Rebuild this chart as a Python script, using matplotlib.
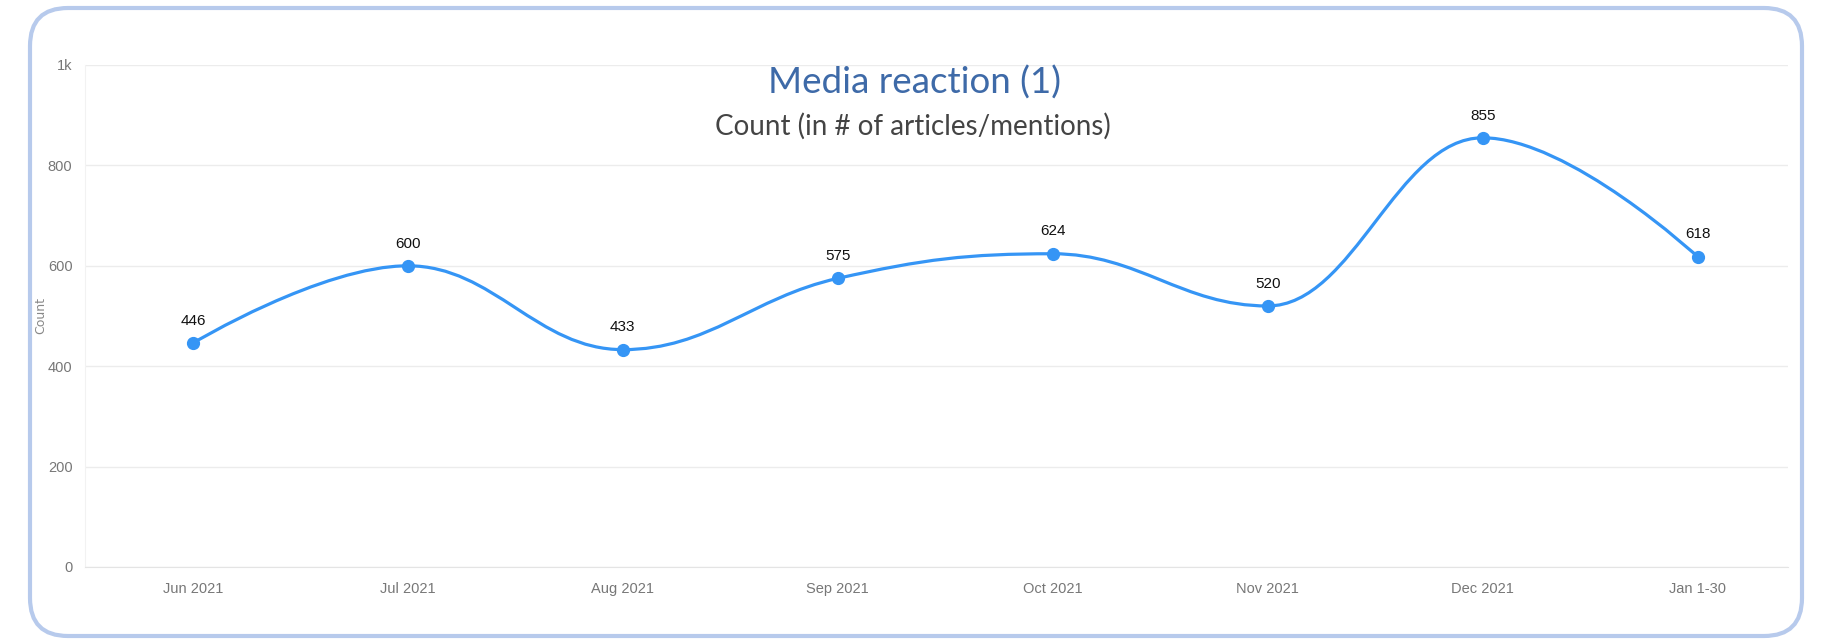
import matplotlib
matplotlib.use('Agg')
import matplotlib.pyplot as plt
from matplotlib.patches import FancyBboxPatch, PathPatch
from matplotlib.path import Path
from matplotlib.transforms import IdentityTransform
from matplotlib.ticker import FixedLocator, FuncFormatter

months = ['Jun 2021', 'Jul 2021', 'Aug 2021', 'Sep 2021', 'Oct 2021',
          'Nov 2021', 'Dec 2021', 'Jan 1-30']
counts = [446, 600, 433, 575, 624, 520, 855, 618]
y_ticks = [0, 200, 400, 600, 800, 1000]

narrow = ['Liberation Sans', 'DejaVu Sans']
line_color = '#3595f5'


def spline_path(xs, ys, smoothing=1.5):
    # highcharts-like spline: bezier through points, flat at extremes
    denom = smoothing + 1
    n = len(xs)
    conts = []
    for i in range(n):
        if i == 0 or i == n - 1:
            conts.append(((xs[i], ys[i]), (xs[i], ys[i])))
            continue
        lx, ly = xs[i - 1], ys[i - 1]
        nx, ny = xs[i + 1], ys[i + 1]
        px, py = xs[i], ys[i]
        lcx = (smoothing * px + lx) / denom
        lcy = (smoothing * py + ly) / denom
        rcx = (smoothing * px + nx) / denom
        rcy = (smoothing * py + ny) / denom
        corr = 0
        if rcx != lcx:
            corr = (rcy - lcy) * (rcx - px) / (rcx - lcx) + py - rcy
        lcy += corr
        rcy += corr
        if lcy > ly and lcy > py:
            lcy = max(ly, py)
            rcy = 2 * py - lcy
        elif lcy < ly and lcy < py:
            lcy = min(ly, py)
            rcy = 2 * py - lcy
        if rcy > ny and rcy > py:
            rcy = max(ny, py)
            lcy = 2 * py - rcy
        elif rcy < ny and rcy < py:
            rcy = min(ny, py)
            lcy = 2 * py - rcy
        conts.append(((lcx, lcy), (rcx, rcy)))
    verts = [(xs[0], ys[0])]
    codes = [Path.MOVETO]
    for i in range(1, n):
        verts += [conts[i - 1][1], conts[i][0], (xs[i], ys[i])]
        codes += [Path.CURVE4] * 3
    return Path(verts, codes)


fig = plt.figure(figsize=(18.36, 6.4), dpi=100)
fig.patch.set_facecolor('white')

# rounded card border
card = FancyBboxPatch((30, 4), 1772, 628,
                      boxstyle='round,pad=0,rounding_size=38',
                      transform=IdentityTransform(), facecolor='none',
                      edgecolor='#b7caec', linewidth=3, zorder=-1)
fig.patches.append(card)

ax = fig.add_axes([85 / 1836, 1 - 567 / 640, (1788 - 85) / 1836, (567 - 65) / 640])
ax.set_facecolor('none')

x = list(range(len(months)))
ax.add_patch(PathPatch(spline_path(x, counts), facecolor='none',
                       edgecolor=line_color, linewidth=2.3, zorder=3))
ax.plot(x, counts, linestyle='none', marker='o', markersize=8.5,
        color=line_color, zorder=4)

for xi, v in zip(x, counts):
    ax.annotate(str(v), (xi, v), xytext=(0, 11), textcoords='offset points',
                ha='center', va='bottom', fontsize=11, color='#111111',
                family=narrow, zorder=5)

ax.set_xlim(-0.502, 7.42)
ax.set_ylim(0, 1000)
ax.yaxis.set_major_locator(FixedLocator(y_ticks))
ax.yaxis.set_major_formatter(FuncFormatter(lambda v, p: '1k' if v == 1000 else f'{int(v)}'))
ax.set_xticks(x)
ax.set_xticklabels(months)

ax.grid(axis='y', color='#ececec', linewidth=1)
ax.set_axisbelow(True)
for s in ['top', 'right']:
    ax.spines[s].set_visible(False)
ax.spines['left'].set_color('#f2f2f2')
ax.spines['bottom'].set_color('#e4e4e4')
ax.tick_params(axis='both', length=0, colors='#777777', labelsize=10.5)
ax.tick_params(axis='x', pad=11)
ax.tick_params(axis='y', pad=9)
for lab in ax.get_xticklabels() + ax.get_yticklabels():
    lab.set_family(narrow)

fig.text(41 / 1836, 1 - 316 / 640, 'Count', rotation=90, ha='center', va='center',
         fontsize=9, color='#888888', family=['DejaVu Sans'])

fig.text(915 / 1836, 1 - 83 / 640, 'Media reaction (1)', ha='center', va='center',
         fontsize=26.5, color='#3e6aa8', family=['Lato', 'DejaVu Sans'])
fig.text(913 / 1836, 1 - 126 / 640, 'Count (in # of articles/mentions)', ha='center',
         va='center', fontsize=20, color='#444444', family=['Lato', 'DejaVu Sans'])

fig.savefig('out.png', dpi=100, facecolor='white')
